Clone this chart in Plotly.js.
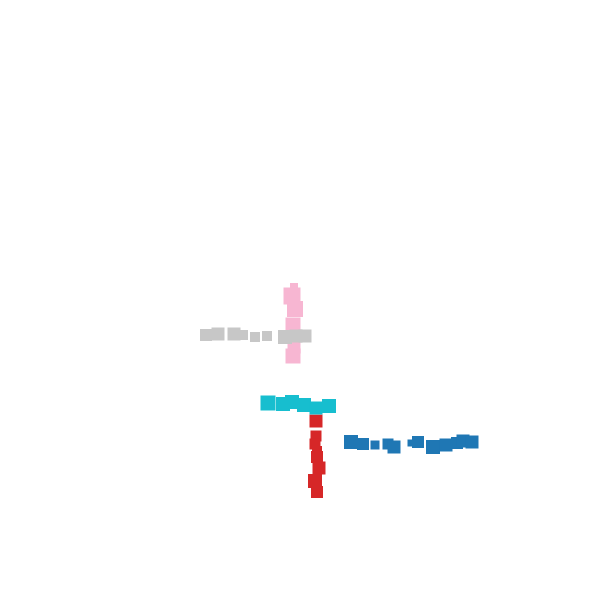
<!DOCTYPE html>
<html>
<head>
<meta charset="utf-8">
<script src="https://cdn.plot.ly/plotly-3.0.1.min.js"></script>
<style>html,body{margin:0;padding:0;background:#fff;}#chart{width:600px;height:600px;}</style>
</head>
<body>
<div id="chart"></div>
<script>
// Series values (x, y) and marker sizes
const blueX = [351, 363, 375, 388, 394, 411, 418, 433, 446, 457, 463, 472];
const blueY = [442, 444, 445, 444, 447, 443, 442, 447, 445, 443, 441, 442];
const blueS = [14, 12, 9, 11, 13, 7, 12, 14, 13, 12, 13, 13];

const redX = [316, 316, 315, 317, 317, 319, 315, 317];
const redY = [421, 436, 444, 451, 457, 468, 481, 492];
const redS = [13, 11, 11, 10, 12, 13, 14, 12];

const cyanX = [268, 283, 292, 304, 316, 329];
const cyanY = [403, 404, 402, 405, 408, 406];
const cyanS = [15, 14, 14, 14, 13, 14];

const pinkX = [294, 292, 295, 293, 294, 293];
const pinkY = [287, 296, 309, 325, 347, 356];
const pinkS = [8, 17, 16, 15, 13, 15];

const grayX = [206, 218, 234, 243, 255, 267, 285, 296, 305];
const grayY = [335, 334, 334, 335, 337, 336, 337, 336, 336];
const grayS = [12, 13, 13, 10, 10, 10, 14, 13, 13];

function tr(x, y, s, color) {
  return {x: x, y: y, type: 'scatter', mode: 'markers',
    marker: {symbol: 'square', size: s, color: color, opacity: 1, line: {width: 0}},
    hoverinfo: 'skip', showlegend: false};
}
const data = [
  tr(blueX, blueY, blueS, '#1f77b4'),
  tr(redX, redY, redS, '#d62728'),
  tr(cyanX, cyanY, cyanS, '#17becf'),
  tr(pinkX, pinkY, pinkS, '#f7b6d2'),
  tr(grayX, grayY, grayS, '#c7c7c7')
];
const hidden = {visible: false, showgrid: false, zeroline: false, fixedrange: true};
const layout = {
  width: 600, height: 600,
  margin: {l: 0, r: 0, t: 0, b: 0},
  paper_bgcolor: '#ffffff', plot_bgcolor: '#ffffff',
  xaxis: Object.assign({range: [0, 600]}, hidden),
  yaxis: Object.assign({range: [600, 0]}, hidden),
  showlegend: false
};
Plotly.newPlot('chart', data, layout, {displayModeBar: false, staticPlot: true});
</script>
</body>
</html>
